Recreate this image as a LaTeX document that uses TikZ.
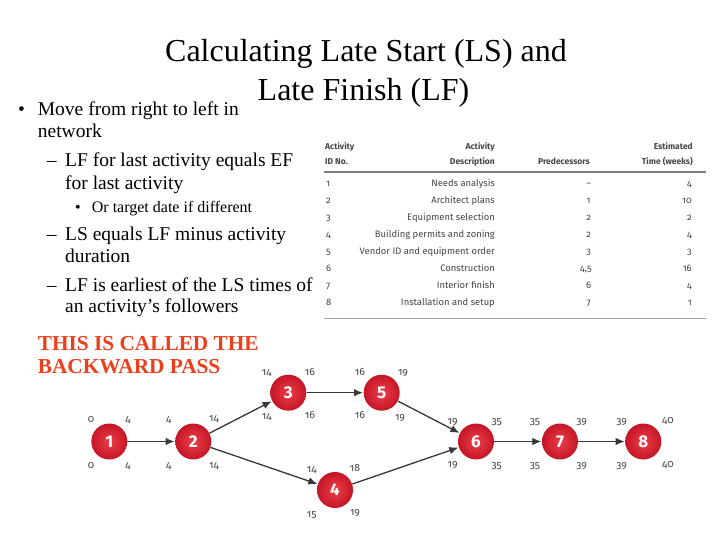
\documentclass[tikz,border=0pt]{standalone}
\usepackage{fontspec}
\setmainfont{Liberation Serif}
\newfontfamily\tabfont[Numbers=OldStyle]{Fira Sans}
\newfontfamily\numfont{Fira Sans}
\usepackage{tikz}
\usetikzlibrary{arrows,arrows.meta,calc}
\definecolor{actred}{RGB}{236,62,72}
\definecolor{actdark}{RGB}{196,22,38}
\definecolor{passred}{RGB}{236,64,28}
\definecolor{tabgray}{RGB}{70,70,70}
\definecolor{arrgray}{RGB}{55,55,55}
\tikzset{
  act/.style={circle,minimum size=36pt,inner sep=0pt,shading=radial,
    inner color=actred,outer color=actdark,
    text=white,font=\numfont\bfseries\fontsize{17}{17}\selectfont},
  num/.style={inner sep=0pt,text=tabgray,font=\tabfont\fontsize{10.5}{11}\selectfont},
  flow/.style={-{Latex[length=9pt,width=7.5pt]},draw=arrgray,line width=1.3pt,shorten >=0.5pt},
  txt/.style={anchor=base west,inner sep=0pt},
  big/.style={txt,font=\fontsize{19.5}{20}\selectfont},
  hdr/.style={inner sep=0pt,anchor=base,font=\tabfont\bfseries\fontsize{8.5}{9}\selectfont,text=tabgray},
  cell/.style={inner sep=0pt,anchor=base,font=\tabfont\fontsize{9.4}{10}\selectfont,text=tabgray}
}
\begin{document}
\begin{tikzpicture}[x=1pt,y=-1pt]
\useasboundingbox[fill=white] (0,0) rectangle (728,546);

% title
\node[anchor=base,inner sep=0pt,font=\fontsize{32}{32}\selectfont] (title1) at (366,61.5) {Calculating Late Start (LS) and};
\node[anchor=base,inner sep=0pt,font=\fontsize{32}{32}\selectfont] (title2) at (363.5,100) {Late Finish (LF)};

% bullets
\node[big] (b1) at (18,115) {\textbullet};
\node[big] (t1) at (37.7,115) {Move from right to left in};
\node[big] (t2) at (37.7,137.3) {network};
\node[big] (d1) at (46.7,166) {–};
\node[big] (t3) at (65,166) {LF for last activity equals EF};
\node[big] (t4) at (65,189.3) {for last activity};
\node[txt,font=\fontsize{16}{16}\selectfont] (b2) at (75,212.7) {\textbullet};
\node[txt,font=\fontsize{16}{16}\selectfont] (t5) at (91.7,212.7) {Or target date if different};
\node[big] (d2) at (46.7,240) {–};
\node[big] (t6) at (65,240) {LS equals LF minus activity};
\node[big] (t7) at (65,262.7) {duration};
\node[big] (d3) at (46.7,291.7) {–};
\node[big] (t8) at (65,291.7) {LF is earliest of the LS times of};
\node[big] (t9) at (65,312.7) {an activity’s followers};

% backward pass
\node[txt,text=passred,font=\bfseries\fontsize{21.3}{21}\selectfont] (pass1) at (37.7,350) {THIS IS CALLED THE};
\node[txt,text=passred,font=\bfseries\fontsize{21.3}{21}\selectfont] (pass2) at (37.7,373.3) {BACKWARD PASS};

% table
\node[hdr,anchor=base west] (h1a) at (325,149) {Activity};
\node[hdr,anchor=base west] (h1b) at (325,164.5) {ID No.};
\node[hdr,anchor=base east] (h2a) at (495,149) {Activity};
\node[hdr,anchor=base east] (h2b) at (495,164.5) {Description};
\node[hdr,anchor=base east] (h3) at (590,164.5) {Predecessors};
\node[hdr,anchor=base east] (h4a) at (693,149) {Estimated};
\node[hdr,anchor=base east] (h4b) at (693,164.5) {Time (weeks)};
\draw[tabgray!70,line width=1.2pt] (324,172) -- (706,172);
\draw[tabgray!50,line width=0.8pt] (324,318) -- (706,318);

\node[cell,anchor=base west] (id1) at (326,186.5) {1};
\node[cell,anchor=base east] (de1) at (495,186.5) {Needs analysis};
\node[cell] (pr1) at (588.7,186.5) {–};
\node[cell,anchor=base east] (ti1) at (692,186.5) {4};
\node[cell,anchor=base west] (id2) at (326,203.5) {2};
\node[cell,anchor=base east] (de2) at (495,203.5) {Architect plans};
\node[cell] (pr2) at (588.7,203.5) {1};
\node[cell,anchor=base east] (ti2) at (692,203.5) {10};
\node[cell,anchor=base west] (id3) at (326,220.5) {3};
\node[cell,anchor=base east] (de3) at (495,220.5) {Equipment selection};
\node[cell] (pr3) at (588.7,220.5) {2};
\node[cell,anchor=base east] (ti3) at (692,220.5) {2};
\node[cell,anchor=base west] (id4) at (326,237.5) {4};
\node[cell,anchor=base east] (de4) at (495,237.5) {Building permits and zoning};
\node[cell] (pr4) at (588.7,237.5) {2};
\node[cell,anchor=base east] (ti4) at (692,237.5) {4};
\node[cell,anchor=base west] (id5) at (326,254.5) {5};
\node[cell,anchor=base east] (de5) at (495,254.5) {Vendor ID and equipment order};
\node[cell] (pr5) at (588.7,254.5) {3};
\node[cell,anchor=base east] (ti5) at (692,254.5) {3};
\node[cell,anchor=base west] (id6) at (326,271.5) {6};
\node[cell,anchor=base east] (de6) at (495,271.5) {Construction};
\node[cell] (pr6) at (586,271.5) {4,5};
\node[cell,anchor=base east] (ti6) at (692,271.5) {16};
\node[cell,anchor=base west] (id7) at (326,288.5) {7};
\node[cell,anchor=base east] (de7) at (495,288.5) {Interior finish};
\node[cell] (pr7) at (588.7,288.5) {6};
\node[cell,anchor=base east] (ti7) at (692,288.5) {4};
\node[cell,anchor=base west] (id8) at (326,305.5) {8};
\node[cell,anchor=base east] (de8) at (495,305.5) {Installation and setup};
\node[cell] (pr8) at (588.7,305.5) {7};
\node[cell,anchor=base east] (ti8) at (692,305.5) {1};

% network
\node[act] (a1) at (109.3,441.5) {1};
\node[act] (a2) at (193.3,441.5) {2};
\node[act] (a3) at (288.3,392.7) {3};
\node[act] (a5) at (381.7,392.7) {5};
\node[act] (a4) at (335,490) {4};
\node[act] (a6) at (476,441.5) {6};
\node[act] (a7) at (560,441.5) {7};
\node[act] (a8) at (643.3,441.5) {8};

\draw[flow] (a1) -- (a2);
\draw[flow] (a2) -- (a3);
\draw[flow] (a2) -- (a4);
\draw[flow] (a3) -- (a5);
\draw[flow] (a5) -- (a6);
\draw[flow] (a4) -- (a6);
\draw[flow] (a6) -- (a7);
\draw[flow] (a7) -- (a8);

% times
\node[num] (es1) at (91,420) {0};
\node[num] (ef1) at (128,420) {4};
\node[num] (ls1) at (91,466) {0};
\node[num] (lf1) at (128,466) {4};
\node[num] (es2) at (168.7,420) {4};
\node[num] (ef2) at (214,419) {14};
\node[num] (ls2) at (168.7,466) {4};
\node[num] (lf2) at (214,466) {14};
\node[num] (es3) at (266.7,373) {14};
\node[num] (ef3) at (310,372) {16};
\node[num] (ls3) at (266.7,416.7) {14};
\node[num] (lf3) at (310,415) {16};
\node[num] (es5) at (360,372) {16};
\node[num] (ef5) at (403,373) {19};
\node[num] (ls5) at (360,415) {16};
\node[num] (lf5) at (400,418) {19};
\node[num] (es4) at (311.7,470) {14};
\node[num] (ef4) at (355,468) {18};
\node[num] (ls4) at (311.7,515) {15};
\node[num] (lf4) at (355,513) {19};
\node[num] (es6) at (452.7,421.7) {19};
\node[num] (ef6) at (496.7,421.7) {35};
\node[num] (ls6) at (452.7,465) {19};
\node[num] (lf6) at (496.7,466) {35};
\node[num] (es7) at (535,421.7) {35};
\node[num] (ef7) at (581.7,421.7) {39};
\node[num] (ls7) at (535,466) {35};
\node[num] (lf7) at (581.7,466) {39};
\node[num] (es8) at (621.7,421.7) {39};
\node[num] (ef8) at (668,420.7) {40};
\node[num] (ls8) at (621.7,466) {39};
\node[num] (lf8) at (668,465) {40};
\end{tikzpicture}
\end{document}
